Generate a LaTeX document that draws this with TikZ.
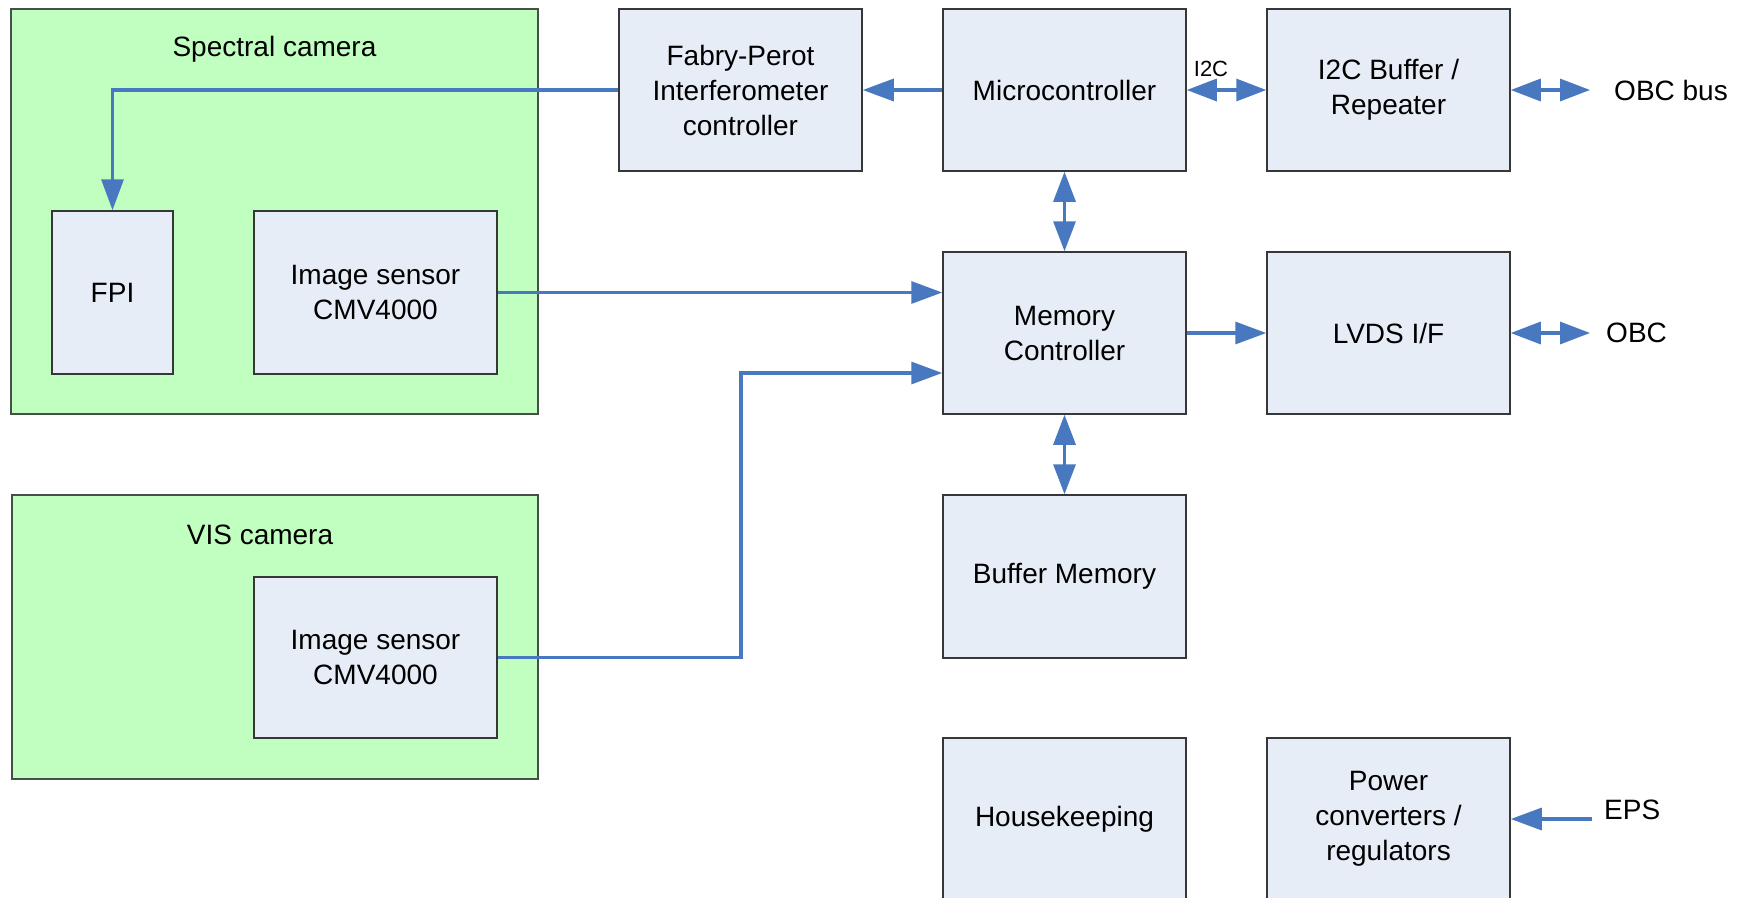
\documentclass[tikz,border=0pt]{standalone}
\usepackage{fontspec}
\setmainfont{Liberation Sans}
\usetikzlibrary{arrows.meta}
\definecolor{boxfill}{RGB}{231,237,247}
\definecolor{camfill}{RGB}{193,255,193}
\definecolor{camline}{RGB}{70,80,70}
\definecolor{arrowblue}{RGB}{71,120,192}
\definecolor{boxline}{RGB}{55,55,55}
\begin{document}
\begin{tikzpicture}[x=1pt,y=-1pt,
  block/.style={draw=boxline, line width=1.5pt, fill=boxfill, minimum width=243pt, minimum height=162pt, inner sep=0pt, align=center, font=\fontsize{28}{35}\selectfont},
  cam/.style={draw=camline, line width=1.5pt, fill=camfill, inner sep=0pt},
  lbl/.style={inner sep=0pt, font=\fontsize{28}{34}\selectfont},
  smalllbl/.style={inner sep=0pt, font=\fontsize{22}{26}\selectfont},
  arr/.style={draw=arrowblue, line width=3.2pt, -{Triangle[length=31pt,width=22pt]}},
  darr/.style={draw=arrowblue, line width=3.2pt, {Triangle[length=30pt,width=22pt]}-{Triangle[length=30pt,width=22pt]}}
]
\useasboundingbox (0,0) rectangle (1745,897);
\fill[white] (0,0) rectangle (1745,897);

% camera enclosures
\node[cam, minimum width=527pt, minimum height=405pt] (spec) at (274.5,211.5) {};
\node[cam, minimum width=526pt, minimum height=284pt] (vis) at (275,637) {};
\node[lbl] (speclbl) at (274.5,49) {Spectral camera};
\node[lbl] (vislbl) at (260,535) {VIS camera};

% inner blocks
\node[block, minimum width=121pt, minimum height=163pt] (fpi) at (112.5,292.5) {FPI};
\node[block, minimum height=163pt] (is1) at (375.5,292.5) {Image sensor\\CMV4000};
\node[block, minimum height=161pt] (is2) at (375.5,657.5) {Image sensor\\CMV4000};

% main blocks
\node[block] (fpc) at (740.5,90) {Fabry-Perot\\Interferometer\\controller};
\node[block] (mcu) at (1064.5,90) {Microcontroller};
\node[block] (i2c) at (1388.5,90) {I2C Buffer /\\Repeater};
\node[block] (mem) at (1064.5,333) {Memory\\Controller};
\node[block] (lvds) at (1388.5,333) {LVDS I/F};
\node[block, minimum height=163pt] (buf) at (1064.5,576.5) {Buffer Memory};
\node[block] (hk) at (1064.5,819) {Housekeeping};
\node[block] (pwr) at (1388.5,819) {Power\\converters /\\regulators};

% external labels and free ends
\coordinate (obcbusend) at (1590,90);
\coordinate (obcend) at (1590,333);
\coordinate (epsend) at (1592,819);
\coordinate (jog) at (741,373);
\node[lbl, anchor=west] (obcbus) at (1614,90) {OBC bus};
\node[lbl, anchor=west] (obc) at (1606,333) {OBC};
\node[lbl, anchor=west] (eps) at (1604,810) {EPS};
\node[smalllbl] (i2clbl) at (1211,69) {I2C};

% connectors
\draw[arr] (fpc.west) -| (fpi.north);
\draw[arr] (mcu.west) -- (fpc.east);
\draw[darr] (mcu.east) -- (i2c.west);
\draw[darr] (i2c.east) -- (obcbusend);
\draw[darr] (mcu.south) -- (mem.north);
\draw[arr] (is1.east) -- (is1.east -| mem.west);
\draw[arr] (is2.east) -| (jog) -- (jog -| mem.west);
\draw[arr] (mem.east) -- (lvds.west);
\draw[darr] (lvds.east) -- (obcend);
\draw[darr] (mem.south) -- (buf.north);
\draw[arr] (epsend) -- (pwr.east);
\end{tikzpicture}
\end{document}
